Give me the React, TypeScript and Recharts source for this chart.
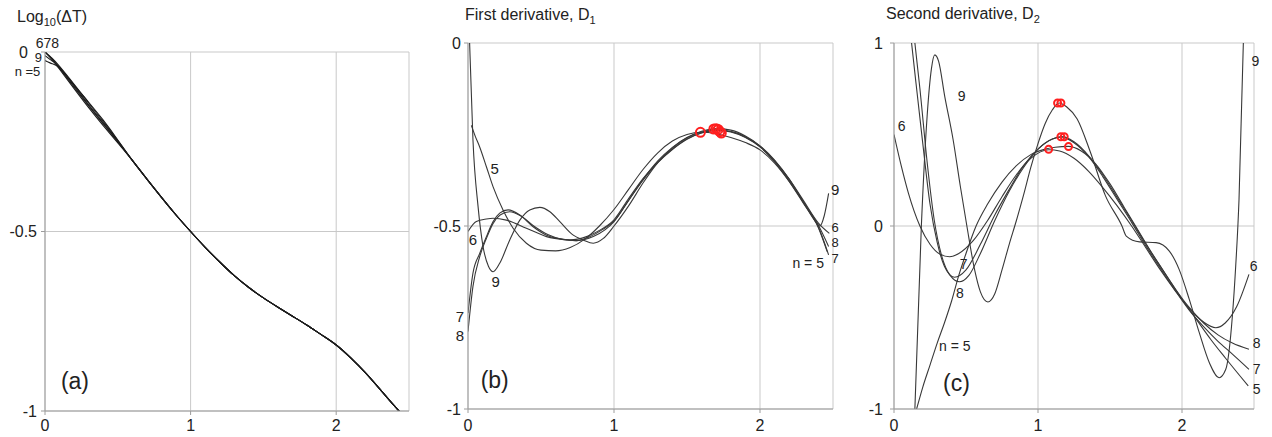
import React from 'react'
import { ComposedChart, Line, Scatter, XAxis, YAxis, CartesianGrid, ReferenceDot } from 'recharts'

const FONT = 'Arial, "Liberation Sans", Helvetica, sans-serif'
const INK = '#222'
const GRID = '#c9c9c9'
const AXIS = '#9c9c9c'
const PEAK = '#ff1f1f'

const xTicks = [0, 1, 2]

// (a) Log10(ΔT): heads differ per n, the tail is common
const aX = [0, 0.05, 0.1, 0.2, 0.3, 0.4, 0.5, 0.6, 0.7, 0.8, 0.9, 1.0, 1.1, 1.2, 1.3, 1.4, 1.5, 1.6, 1.7, 1.8, 1.9, 2.0, 2.1, 2.2, 2.3, 2.4, 2.46]
const aTail = [-0.302, -0.354, -0.405, -0.454, -0.5, -0.544, -0.585, -0.623, -0.656, -0.685, -0.711, -0.736, -0.761, -0.788, -0.816, -0.852, -0.893, -0.939, -0.986, -1.012]
const aHead5 = [-0.024, -0.033, -0.045, -0.092, -0.14, -0.19, -0.245]
const aHead6 = [0, -0.02, -0.045, -0.098, -0.15, -0.2, -0.25]
const aHead7 = [0, -0.018, -0.04, -0.09, -0.142, -0.194, -0.247]
const aHead8 = [0, -0.022, -0.048, -0.102, -0.155, -0.205, -0.253]
const aHead9 = [-0.01, -0.025, -0.043, -0.094, -0.147, -0.198, -0.249]

// (b) first derivative D1
const b5X = [0.023, 0.05, 0.08, 0.126, 0.172, 0.24, 0.309, 0.4, 0.5, 0.6, 0.7, 0.8, 0.9, 1.0, 1.1, 1.2, 1.3, 1.4, 1.5, 1.6, 1.7, 1.8, 1.9, 2.0, 2.1, 2.2, 2.3, 2.4, 2.46]
const b5Y = [-0.225, -0.255, -0.284, -0.338, -0.393, -0.456, -0.506, -0.547, -0.566, -0.568, -0.559, -0.536, -0.5, -0.455, -0.4, -0.345, -0.3, -0.268, -0.25, -0.244, -0.248, -0.258, -0.272, -0.292, -0.328, -0.378, -0.437, -0.505, -0.57]
const b6X = [0, 0.057, 0.126, 0.172, 0.263, 0.4, 0.538, 0.675, 0.744, 0.858, 1.0, 1.1, 1.2, 1.3, 1.4, 1.5, 1.6, 1.7, 1.8, 1.9, 2.0, 2.1, 2.2, 2.3, 2.4, 2.475]
const b6Y = [-0.515, -0.488, -0.481, -0.479, -0.484, -0.506, -0.529, -0.538, -0.54, -0.529, -0.488, -0.43, -0.372, -0.322, -0.285, -0.258, -0.243, -0.237, -0.242, -0.257, -0.283, -0.322, -0.372, -0.432, -0.492, -0.52]
const b7X = [0, 0.034, 0.08, 0.126, 0.172, 0.217, 0.275, 0.355, 0.446, 0.538, 0.629, 0.698, 0.812, 0.9, 1.0, 1.1, 1.2, 1.3, 1.4, 1.5, 1.6, 1.7, 1.8, 1.9, 2.0, 2.1, 2.2, 2.3, 2.4, 2.47]
const b7Y = [-0.738, -0.629, -0.575, -0.529, -0.488, -0.465, -0.456, -0.47, -0.502, -0.525, -0.535, -0.538, -0.529, -0.512, -0.483, -0.425, -0.37, -0.325, -0.29, -0.262, -0.245, -0.238, -0.243, -0.258, -0.284, -0.325, -0.378, -0.44, -0.503, -0.579]
const b8X = [0, 0.034, 0.08, 0.126, 0.172, 0.22, 0.286, 0.36, 0.45, 0.55, 0.65, 0.74, 0.83, 0.92, 1.0, 1.1, 1.2, 1.3, 1.4, 1.5, 1.6, 1.7, 1.8, 1.9, 2.0, 2.1, 2.2, 2.3, 2.4, 2.47]
const b8Y = [-0.788, -0.665, -0.584, -0.534, -0.493, -0.47, -0.461, -0.472, -0.5, -0.524, -0.537, -0.54, -0.53, -0.51, -0.487, -0.43, -0.374, -0.327, -0.291, -0.263, -0.246, -0.239, -0.242, -0.256, -0.282, -0.322, -0.374, -0.436, -0.498, -0.556]
const b9X = [0.011, 0.034, 0.069, 0.103, 0.14, 0.172, 0.217, 0.286, 0.355, 0.423, 0.492, 0.561, 0.629, 0.721, 0.789, 0.858, 0.927, 1.0, 1.1, 1.2, 1.3, 1.4, 1.5, 1.6, 1.7, 1.8, 1.9, 2.0, 2.1, 2.2, 2.3, 2.38, 2.41, 2.44, 2.47]
const b9Y = [0.0, -0.265, -0.447, -0.556, -0.61, -0.625, -0.602, -0.538, -0.484, -0.456, -0.449, -0.461, -0.488, -0.525, -0.538, -0.547, -0.534, -0.5, -0.445, -0.382, -0.327, -0.287, -0.259, -0.241, -0.234, -0.238, -0.254, -0.281, -0.32, -0.372, -0.437, -0.488, -0.5, -0.472, -0.411]
const bPeakX = [1.592, 1.684, 1.7, 1.713, 1.725, 1.735]
const bPeakY = [-0.244, -0.235, -0.234, -0.236, -0.242, -0.246]

// (c) second derivative D2
const c5X = [0.157, 0.2, 0.25, 0.3, 0.35, 0.4, 0.45, 0.5, 0.57, 0.65, 0.75, 0.85, 0.95, 1.05, 1.12, 1.21, 1.3, 1.4, 1.5, 1.6, 1.7, 1.8, 1.9, 2.0, 2.1, 2.2, 2.3, 2.46]
const c5Y = [-1.0, -0.88, -0.76, -0.64, -0.53, -0.41, -0.27, -0.15, 0.0, 0.12, 0.24, 0.33, 0.39, 0.42, 0.43, 0.435, 0.41, 0.34, 0.23, 0.1, -0.03, -0.16, -0.28, -0.4, -0.51, -0.62, -0.72, -0.874]
const c6X = [0, 0.05, 0.1, 0.18, 0.25, 0.32, 0.386, 0.45, 0.55, 0.65, 0.75, 0.85, 0.95, 1.076, 1.15, 1.25, 1.35, 1.45, 1.55, 1.65, 1.75, 1.85, 1.95, 2.05, 2.15, 2.235, 2.3, 2.38, 2.465]
const c6Y = [0.5, 0.33, 0.18, 0.0, -0.1, -0.155, -0.168, -0.15, -0.08, 0.03, 0.16, 0.28, 0.37, 0.417, 0.41, 0.37, 0.3, 0.21, 0.11, 0.0, -0.12, -0.24, -0.35, -0.45, -0.525, -0.556, -0.53, -0.44, -0.264]
const c7X = [0.122, 0.15, 0.2, 0.25, 0.3, 0.35, 0.42, 0.5, 0.6, 0.7, 0.8, 0.9, 1.0, 1.1, 1.16, 1.25, 1.35, 1.45, 1.55, 1.65, 1.75, 1.85, 1.95, 2.05, 2.15, 2.25, 2.35, 2.465]
const c7Y = [1.0, 0.8, 0.45, 0.12, -0.09, -0.22, -0.28, -0.24, -0.1, 0.06, 0.2, 0.33, 0.42, 0.475, 0.487, 0.455, 0.38, 0.27, 0.145, 0.02, -0.11, -0.23, -0.35, -0.46, -0.55, -0.63, -0.7, -0.783]
const c8X = [0.145, 0.18, 0.23, 0.28, 0.33, 0.39, 0.455, 0.52, 0.6, 0.7, 0.8, 0.9, 1.0, 1.1, 1.175, 1.25, 1.35, 1.45, 1.55, 1.65, 1.75, 1.85, 1.95, 2.05, 2.15, 2.25, 2.35, 2.465]
const c8Y = [1.0, 0.75, 0.35, 0.03, -0.16, -0.27, -0.305, -0.27, -0.15, 0.03, 0.19, 0.32, 0.42, 0.475, 0.488, 0.46, 0.385, 0.28, 0.155, 0.03, -0.1, -0.22, -0.34, -0.445, -0.53, -0.595, -0.64, -0.674]
const c9X = [0.145, 0.19, 0.23, 0.26, 0.283, 0.31, 0.352, 0.41, 0.46, 0.506, 0.56, 0.6, 0.652, 0.7, 0.75, 0.8, 0.85, 0.9, 0.95, 1.0, 1.05, 1.1, 1.147, 1.2, 1.272, 1.364, 1.468, 1.583, 1.613, 1.705, 1.82, 1.912, 1.98, 2.05, 2.12, 2.19, 2.258, 2.304, 2.35, 2.373, 2.396, 2.426]
const c9Y = [-1.0, 0.0, 0.6, 0.86, 0.935, 0.9, 0.71, 0.474, 0.22, 0.0, -0.24, -0.36, -0.415, -0.37, -0.24, -0.1, 0.03, 0.17, 0.32, 0.45, 0.56, 0.635, 0.672, 0.65, 0.585, 0.403, 0.166, 0.0, -0.055, -0.087, -0.091, -0.137, -0.237, -0.4, -0.583, -0.747, -0.829, -0.783, -0.49, -0.219, 0.146, 1.0]
const cPeakX = [1.136, 1.159, 1.159, 1.182, 1.074, 1.212]
const cPeakY = [0.672, 0.672, 0.488, 0.488, 0.419, 0.434]

// curve labels, in data units of each panel
const aNotes = [
    { text: '678', x: 0.017, y: 0.024, size: 14 },
    { text: '9', x: -0.046, y: -0.014, size: 13 },
    { text: 'n =5', x: -0.12, y: -0.055, size: 13 },
    { text: '(a)', x: 0.206, y: -0.915, size: 23 },
]
const bNotes = [
    { text: '5', x: 0.183, y: -0.343, size: 15 },
    { text: '6', x: 0.034, y: -0.538, size: 15 },
    { text: '9', x: 0.19, y: -0.652, size: 15 },
    { text: '7', x: -0.055, y: -0.748, size: 15 },
    { text: '8', x: -0.055, y: -0.8, size: 15 },
    { text: '9', x: 2.515, y: -0.402, size: 15 },
    { text: '6', x: 2.515, y: -0.505, size: 13 },
    { text: '8', x: 2.515, y: -0.546, size: 13 },
    { text: '7', x: 2.515, y: -0.588, size: 13 },
    { text: 'n = 5', x: 2.33, y: -0.6, size: 14 },
    { text: '(b)', x: 0.183, y: -0.92, size: 23 },
]
const cNotes = [
    { text: '9', x: 2.51, y: 0.9, size: 14 },
    { text: '9', x: 0.469, y: 0.71, size: 14 },
    { text: '6', x: 0.053, y: 0.545, size: 14 },
    { text: '6', x: 2.498, y: -0.219, size: 14 },
    { text: '7', x: 0.484, y: -0.209, size: 14 },
    { text: '8', x: 0.457, y: -0.364, size: 14 },
    { text: 'n = 5', x: 0.422, y: -0.656, size: 14 },
    { text: '8', x: 2.519, y: -0.641, size: 14 },
    { text: '7', x: 2.519, y: -0.779, size: 14 },
    { text: '5', x: 2.519, y: -0.892, size: 14 },
    { text: '(c)', x: 0.434, y: -0.856, size: 23 },
]

type Pt = { x: number; y: number }
type Note = { text: string; x: number; y: number; size: number }

const zip = (xs: number[], ys: number[]): Pt[] => xs.map((x, i) => ({ x, y: ys[i] }))

const aSeries = [aHead5, aHead6, aHead7, aHead8, aHead9].map((h) => zip(aX, [...h, ...aTail]))
const bSeries = [zip(b5X, b5Y), zip(b6X, b6Y), zip(b7X, b7Y), zip(b8X, b8Y), zip(b9X, b9Y)]
const cSeries = [zip(c5X, c5Y), zip(c6X, c6Y), zip(c7X, c7Y), zip(c8X, c8Y), zip(c9X, c9Y)]

type PanelProps = {
    left: number
    width: number
    top: number
    right: number
    yAxisWidth: number
    xAxisHeight: number
    yDomain: [number, number]
    yTicks: number[]
    yTickMargin: number
    xTickMargin: number
    series: Pt[][]
    curve: 'monotone' | 'natural'
    stroke: string
    peaks?: Pt[]
    peakR?: number
    notes: Note[]
    shiftZero?: number
}

function Panel(p: PanelProps) {
    const yTick = (t: any) => (
        <text
            x={t.x - (t.payload.value === 0 ? p.shiftZero ?? 0 : 0)}
            y={t.y}
            dy="0.355em"
            textAnchor="end"
            fontSize={16}
            fill={INK}
            fontFamily={FONT}
        >
            {t.payload.value}
        </text>
    )
    return (
        <div style={{ position: 'absolute', left: p.left, top: 0 }}>
            <ComposedChart width={p.width} height={437} margin={{ top: p.top, right: p.right, bottom: 0, left: 0 }}>
                <CartesianGrid stroke={GRID} />
                <XAxis
                    type="number"
                    dataKey="x"
                    domain={[0, 2.5]}
                    ticks={xTicks}
                    allowDataOverflow
                    height={p.xAxisHeight}
                    tickSize={4}
                    tickMargin={p.xTickMargin}
                    axisLine={{ stroke: AXIS }}
                    tickLine={{ stroke: AXIS }}
                    tick={{ fontSize: 16, fill: INK, fontFamily: FONT }}
                />
                <YAxis
                    type="number"
                    dataKey="y"
                    domain={p.yDomain}
                    ticks={p.yTicks}
                    allowDataOverflow
                    width={p.yAxisWidth}
                    tickSize={4}
                    tickMargin={p.yTickMargin}
                    axisLine={{ stroke: AXIS }}
                    tickLine={{ stroke: AXIS }}
                    tick={yTick}
                />
                {p.series.map((d, i) => (
                    <Line
                        key={i}
                        data={d}
                        dataKey="y"
                        type={p.curve}
                        dot={false}
                        activeDot={false}
                        stroke={p.stroke}
                        strokeWidth={1.1}
                        isAnimationActive={false}
                    />
                ))}
                {p.peaks && (
                    <Scatter
                        data={p.peaks}
                        dataKey="y"
                        isAnimationActive={false}
                        shape={(s: any) => (
                            <circle cx={s.cx} cy={s.cy} r={p.peakR} fill="none" stroke={PEAK} strokeWidth={2} />
                        )}
                    />
                )}
                {p.notes.map((n, i) => (
                    <ReferenceDot
                        key={'n' + i}
                        x={n.x}
                        y={n.y}
                        r={0}
                        stroke="none"
                        fill="none"
                        ifOverflow="visible"
                        label={{ value: n.text, position: 'center', fontSize: n.size, fill: INK, fontFamily: FONT }}
                    />
                ))}
            </ComposedChart>
        </div>
    )
}

const titleStyle: React.CSSProperties = {
    position: 'absolute',
    fontFamily: FONT,
    fontSize: 16,
    lineHeight: '18px',
    color: INK,
    whiteSpace: 'nowrap',
}
const subStyle: React.CSSProperties = { fontSize: 11, verticalAlign: -4, lineHeight: 0 }

export default function App() {
    return (
        <div style={{ position: 'absolute', left: 0, top: 0, width: 1272, height: 437, background: '#fff', overflow: 'hidden' }}>
            <Panel
                left={0}
                width={420}
                top={52}
                right={11}
                yAxisWidth={45}
                xAxisHeight={26}
                yDomain={[-1, 0]}
                yTicks={[-1, -0.5, 0]}
                yTickMargin={4}
                xTickMargin={5}
                series={aSeries}
                curve="natural"
                stroke="#1c1c1c"
                notes={aNotes}
                shiftZero={9}
            />
            <Panel
                left={420}
                width={430}
                top={43}
                right={17}
                yAxisWidth={48}
                xAxisHeight={28}
                yDomain={[-1, 0]}
                yTicks={[-1, -0.5, 0]}
                yTickMargin={3}
                xTickMargin={7}
                series={bSeries}
                curve="monotone"
                stroke="#383838"
                peaks={zip(bPeakX, bPeakY)}
                peakR={4.5}
                notes={bNotes}
            />
            <Panel
                left={850}
                width={422}
                top={43}
                right={18}
                yAxisWidth={44}
                xAxisHeight={28}
                yDomain={[-1, 1]}
                yTicks={[-1, 0, 1]}
                yTickMargin={7}
                xTickMargin={7}
                series={cSeries}
                curve="monotone"
                stroke="#383838"
                peaks={zip(cPeakX, cPeakY)}
                peakR={3.5}
                notes={cNotes}
            />
            <div style={{ ...titleStyle, left: 17, top: 8 }}>
                Log<span style={subStyle}>10</span>(ΔT)
            </div>
            <div style={{ ...titleStyle, left: 465, top: 6 }}>
                First derivative, D<span style={subStyle}>1</span>
            </div>
            <div style={{ ...titleStyle, left: 886, top: 5 }}>
                Second derivative, D<span style={subStyle}>2</span>
            </div>
        </div>
    )
}
